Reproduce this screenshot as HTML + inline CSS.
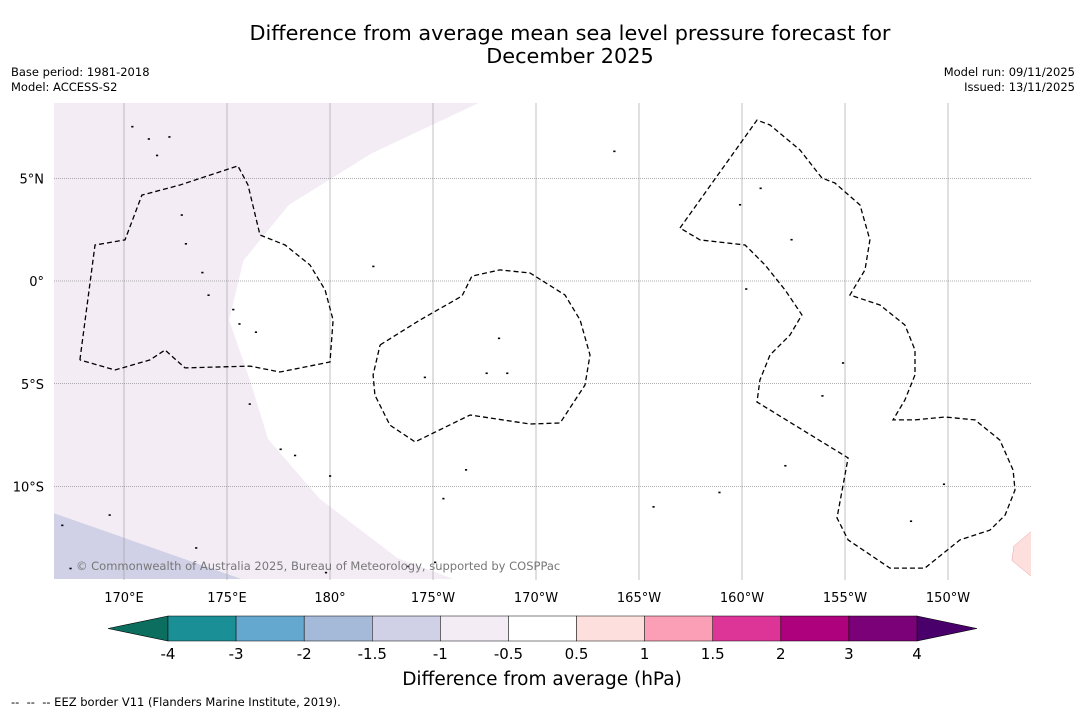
<!DOCTYPE html>
<html><head><meta charset="utf-8">
<style>
body{margin:0;background:#fff;font-family:"DejaVu Sans","Liberation Sans",sans-serif;}
#wrap{position:relative;width:1085px;height:713px;overflow:hidden;}
.t{position:absolute;white-space:nowrap;color:#000;}
</style></head><body>
<div id="wrap">
<div class="t" style="left:0;width:1140px;text-align:center;top:22px;font-size:20.8px;line-height:23px;">Difference from average mean sea level pressure forecast for<br>December 2025</div>
<div class="t" style="left:11px;top:65px;font-size:11.5px;line-height:15px;">Base period: 1981-2018<br>Model: ACCESS-S2</div>
<div class="t" style="right:10px;top:65px;font-size:11.5px;line-height:15px;text-align:right;">Model run: 09/11/2025<br>Issued: 13/11/2025</div>
<svg id="svg" width="1085" height="713" style="position:absolute;left:0;top:0"></svg>
<div class="t" style="left:11px;top:695px;font-size:11.5px;">--&nbsp; --&nbsp; -- EEZ border V11 (Flanders Marine Institute, 2019).</div>
</div>
<script>
const lonTicks=[170,175,180,185,190,195,200,205,210];
const lonLabels=["170°E","175°E","180°","175°W","170°W","165°W","160°W","155°W","150°W"];
const latTicks=[5,0,-5,-10];
const latLabels=["5°N","0°","5°S","10°S"];
const binEdges=["-4","-3","-2","-1.5","-1","-0.5","0.5","1","1.5","2","3","4"];
const binColors=["#1b8f96","#64a8cf","#a5bad9","#d0d1e6","#f3ecf5","#ffffff","#fde0dd","#fa9fb5","#dd3497","#ae017e","#7a0177"];
const eez1=[[167.86,-3.84],[168.59,1.75],[170.05,2.0],[170.87,4.18],[172.72,4.67],[175.53,5.6],[176.02,4.67],[176.6,2.24],[177.82,1.75],[179.03,0.78],[179.76,-0.44],[180.15,-1.9],[180.0,-3.94],[177.57,-4.43],[176.12,-4.14],[172.96,-4.23],[171.99,-3.36],[171.26,-3.84],[169.56,-4.33],[167.86,-3.84]];
const eez2=[[182.43,-3.11],[184.37,-1.9],[186.41,-0.73],[186.89,0.24],[188.25,0.54],[189.71,0.39],[191.41,-0.68],[192.14,-1.9],[192.62,-3.6],[192.38,-5.06],[191.17,-6.91],[189.71,-6.96],[186.8,-6.52],[184.13,-7.83],[182.91,-7.01],[182.18,-5.55],[182.09,-4.57],[182.43,-3.11]];
const eez3=[[196.99,2.58],[200.73,7.83],[201.36,7.59],[202.82,6.37],[203.88,5.01],[204.51,4.77],[205.73,3.7],[206.21,2.0],[205.97,0.54],[205.24,-0.68],[206.7,-1.17],[207.91,-2.14],[208.4,-3.36],[208.4,-4.57],[207.91,-5.79],[207.33,-6.76],[208.4,-6.76],[209.85,-6.62],[211.31,-6.76],[212.52,-7.74],[213.16,-9.2],[213.25,-10.17],[212.77,-11.39],[212.04,-12.12],[210.58,-12.6],[208.88,-13.97],[207.18,-13.97],[205.15,-12.6],[204.61,-11.53],[205.15,-8.61],[200.73,-5.89],[200.87,-4.82],[201.36,-3.6],[202.33,-2.63],[202.91,-1.65],[202.09,-0.44],[201.12,0.78],[200.15,1.75],[197.96,2.0],[196.99,2.58]];
const shadeLav=[[166.6,8.7],[187.3,8.7],[182,6.2],[178,3.7],[175.8,1.0],[175.1,-1.9],[176.1,-4.8],[177,-7.7],[179.5,-10.6],[183.3,-13.5],[186,-14.5],[166.6,-14.5]];
const shadeBlue=[[166.6,-11.3],[175.7,-14.5],[166.6,-14.5]];
const shadePink=[[214.5,-11.8],[213.2,-12.9],[213.1,-13.6],[214.2,-14.5],[214.5,-14.5]];
const islands=[[170.4,7.5],[171.2,6.9],[172.2,7.0],[171.6,6.1],[172.8,3.2],[173.0,1.8],[173.8,0.4],[174.1,-0.7],[175.3,-1.4],[175.6,-2.1],[176.4,-2.5],[182.1,0.7],[184.6,-4.7],[188.2,-2.8],[188.6,-4.5],[187.6,-4.5],[193.8,6.3],[199.9,3.7],[200.2,-0.4],[202.4,2.0],[200.9,4.5],[204.9,-4.0],[203.9,-5.6],[202.1,-9.0],[198.9,-10.3],[209.8,-9.9],[208.2,-11.7],[195.7,-11.0],[186.6,-9.2],[185.5,-10.6],[183.8,-13.9],[185.1,-13.7],[176.1,-6.0],[177.6,-8.2],[178.3,-8.5],[180.0,-9.5],[169.3,-11.4],[167,-11.9],[167.4,-14.0],[173.5,-13.0],[179.8,-14.2]];
const X=lon=>124+(lon-170)*20.6, Y=lat=>281-lat*20.55;
const L=54,R=1031,T=103,B=580;
const svg=document.getElementById('svg');const NS='http://www.w3.org/2000/svg';
function mk(tag,a,p){const e=document.createElementNS(NS,tag);for(const k in a)e.setAttribute(k,a[k]);(p||svg).appendChild(e);return e;}
const cp=mk('clipPath',{id:'mc'});mk('rect',{x:L,y:T,width:R-L,height:B-T},cp);
const g=mk('g',{'clip-path':'url(#mc)'});

const pts=a=>a.map(p=>X(p[0]).toFixed(1)+','+Y(p[1]).toFixed(1)).join(' ');
let e;
e=mk('polygon',{points:pts(shadeLav),fill:'#f3ecf5'},g);
e=mk('polygon',{points:pts(shadeBlue),fill:'#d0d1e6'},g);
e=mk('polygon',{points:pts(shadePink),fill:'#fde0dd',stroke:'#e8a0a0','stroke-width':0.5},g);
lonTicks.forEach((v,i)=>{e=mk('line',{x1:X(v),x2:X(v),y1:T,y2:B,stroke:'#999','stroke-width':0.6},g);
 e=mk('text',{x:X(v),y:602,'text-anchor':'middle','font-size':13,'font-family':'DejaVu Sans, Liberation Sans, sans-serif'});e.textContent=lonLabels[i];});
latTicks.forEach((v,i)=>{e=mk('line',{x1:L,x2:R,y1:Y(v),y2:Y(v),stroke:'#666','stroke-width':0.6,'stroke-dasharray':'1,1'},g);
 e=mk('text',{x:44,y:Y(v)+5,'text-anchor':'end','font-size':13,'font-family':'DejaVu Sans, Liberation Sans, sans-serif'});e.textContent=latLabels[i];});
islands.forEach(p=>{e=mk('rect',{x:X(p[0])-1,y:Y(p[1])-1,width:2.2,height:1.6,fill:'#000'},g);});
[eez1,eez2,eez3].forEach(a=>{e=mk('polyline',{points:pts(a),fill:'none',stroke:'#000','stroke-width':1.3,'stroke-dasharray':'5,3'},g);});
e=mk('text',{x:76,y:570,'font-size':11.5,fill:'#777','font-family':'DejaVu Sans, Liberation Sans, sans-serif'},g);e.textContent='© Commonwealth of Australia 2025, Bureau of Meteorology, supported by COSPPac';
const cbL=168,cbR=917,cbT=616,cbB=641,n=binColors.length,w=(cbR-cbL)/n;
e=mk('polygon',{points:`${cbL},${cbT} 108,${(cbT+cbB)/2} ${cbL},${cbB}`,fill:'#0b6e5f',stroke:'#000','stroke-width':0.6});
e=mk('polygon',{points:`${cbR},${cbT} 977,${(cbT+cbB)/2} ${cbR},${cbB}`,fill:'#49006a',stroke:'#000','stroke-width':0.6});
binColors.forEach((c,i)=>{e=mk('rect',{x:cbL+i*w,y:cbT,width:w,height:cbB-cbT,fill:c,stroke:'#000','stroke-width':0.5});});
binEdges.forEach((t,i)=>{e=mk('text',{x:cbL+i*w,y:659,'text-anchor':'middle','font-size':15,'font-family':'DejaVu Sans, Liberation Sans, sans-serif'});e.textContent=t;});
e=mk('text',{x:542,y:685,'text-anchor':'middle','font-size':18.5,'font-family':'DejaVu Sans, Liberation Sans, sans-serif'});e.textContent='Difference from average (hPa)';
</script>
</body></html>
